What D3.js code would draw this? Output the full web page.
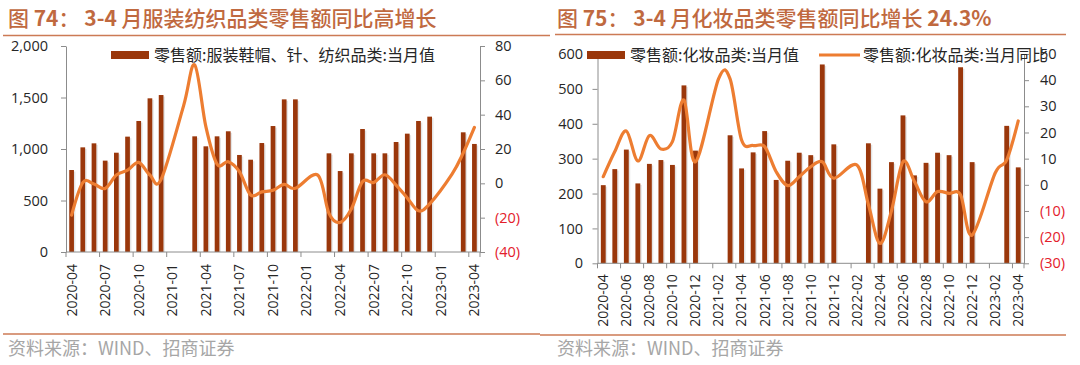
<!DOCTYPE html>
<html><head><meta charset="utf-8">
<script src="https://cdn.jsdelivr.net/npm/d3@7"></script>
<style>
body{margin:0;background:#fff;}
svg{display:block;}
</style>
</head><body>
<svg id="c" width="1080" height="365"></svg>
<script>
// ---------- DATA ----------
const months = ["2020-04","2020-05","2020-06","2020-07","2020-08","2020-09","2020-10","2020-11","2020-12",
  "2021-01","2021-02","2021-03","2021-04","2021-05","2021-06","2021-07","2021-08","2021-09","2021-10","2021-11","2021-12",
  "2022-01","2022-02","2022-03","2022-04","2022-05","2022-06","2022-07","2022-08","2022-09","2022-10","2022-11","2022-12",
  "2023-01","2023-02","2023-03","2023-04"];

// 零售额:服装鞋帽、针、纺织品类:当月值 (亿元)
const apparelSales = [796,1016,1055,887,964,1120,1272,1492,1524,
  null,null,1123,1026,1123,1172,942,896,1058,1223,1482,1482,
  null,null,958,786,958,1194,958,958,1068,1149,1272,1314,
  null,null,1162,1049];
// 零售额:服装鞋帽、针、纺织品类:当月同比 (%)
const apparelYoY = [-18.5,0.4,-0.4,-3,4.8,7.7,12.2,4.8,2.3,
  null,45,69,33,11.2,12.6,6.8,-6.8,-5,-4,-0.6,-2.9,
  null,4.8,-17.5,-22.8,-15,1,0.5,5,-1,-8.5,-16,-12,
  null,5.4,17.7,32.6];

// 零售额:化妆品类:当月值 (亿元)
const cosmeticsSales = [224,270,326,229,285,296,282,510,323,
  null,null,367,272,318,379,239,294,317,310,570,341,
  null,null,344,214,290,424,252,288,317,310,562,290,
  null,null,394,275];
// 零售额:化妆品类:当月同比 (%)
const cosmeticsYoY = [3.1,12.7,20.6,9.1,18.8,13.7,16.5,32.4,8.8,
  null,40.5,40.5,17.1,15,14.6,5,-0.3,3.1,6.9,8.8,2.5,
  null,7.6,-7.5,-22.4,-10,8.8,1.2,-6.5,-2.6,-3.3,-3.9,-19.2,
  null,4.5,9.5,24.4];

const leftTicks1 = [0,500,1000,1500,2000];
const rightTicks1 = [-40,-20,0,20,40,60,80];
const leftTicks2 = [0,100,200,300,400,500,600];
const rightTicks2 = [-30,-20,-10,0,10,20,30,40,50];

// ---------- STYLE ----------
const BAR = "#9A370B", LINE = "#ED7D31", AX = "#8c8c8c", TXT = "#262626", NEG = "#E3202B";
const TITLE = "#C0693F", RULE = "#CC7A55", SRC = "#a6a6a6";
const NUMFONT = "'Open Sans','Noto Sans CJK SC',sans-serif";
const CJK = "'Noto Sans CJK SC','Noto Sans',sans-serif";

const svg = d3.select("#c");

function drawChart(o) {
  const g = svg.append("g");
  const x = d3.scaleBand().domain(months).range([o.x0, o.x1]);
  const yL = d3.scaleLinear().domain(o.leftDomain).range([o.yBot, o.yTop]);
  const yR = d3.scaleLinear().domain(o.rightDomain).range([o.yBot, o.yTop]);
  const bw = x.bandwidth() * 0.42;
  const cx = c => x(c) + x.bandwidth() / 2;

  const barData = months.map((c, i) => ({c, v: o.bars[i]})).filter(d => d.v != null);
  g.selectAll("rect.sh").data(barData).join("rect").attr("class","sh")
    .attr("x", d => cx(d.c) - bw/2 + 1.5).attr("y", d => yL(d.v) + 1.5)
    .attr("width", bw).attr("height", d => Math.max(0, yL(0) - yL(d.v) - 1.5))
    .attr("fill", "#000").attr("opacity", 0.1);
  g.selectAll("rect.bar").data(barData).join("rect").attr("class","bar")
    .attr("x", d => cx(d.c) - bw/2).attr("y", d => yL(d.v))
    .attr("width", bw).attr("height", d => yL(0) - yL(d.v))
    .attr("fill", BAR);

  // x axis
  const xa = g.append("g");
  xa.append("line").attr("x1", o.x0).attr("x2", o.x1).attr("y1", o.yBot).attr("y2", o.yBot)
    .attr("stroke", AX).attr("stroke-width", 1);
  const tickCats = months.filter((m, i) => i % o.every === 0);
  xa.selectAll("line.t").data(tickCats.map(m => x(m)).concat([o.x1])).join("line").attr("class","t")
    .attr("x1", d => d).attr("x2", d => d).attr("y1", o.yBot).attr("y2", o.yBot + 5)
    .attr("stroke", AX);
  xa.selectAll("text").data(tickCats).join("text")
    .attr("transform", d => `translate(${cx(d)},${o.yBot + o.labGap}) rotate(-90)`)
    .attr("text-anchor", "end").attr("dy", "0.35em")
    .style("font-family", NUMFONT).style("font-size", "14px").attr("fill", TXT)
    .text(d => d);

  // left axis
  const la = g.append("g").attr("transform", `translate(${o.x0},0)`)
    .call(d3.axisLeft(yL).tickValues(o.leftTicks).tickSize(5).tickSizeOuter(0)
      .tickPadding(o.lPad).tickFormat(d3.format(",")));
  la.select(".domain").attr("stroke", AX);
  la.selectAll(".tick line").attr("stroke", AX);
  la.selectAll(".tick text").style("font-family", NUMFONT).style("font-size", "14.5px").attr("fill", TXT);

  // right axis
  const ra = g.append("g").attr("transform", `translate(${o.x1},0)`)
    .call(d3.axisRight(yR).tickValues(o.rightTicks).tickSize(5).tickSizeOuter(0)
      .tickPadding(o.rPad).tickFormat(d => d < 0 ? `(${-d})` : `${d}`));
  ra.select(".domain").attr("stroke", AX);
  ra.selectAll(".tick line").attr("stroke", AX);
  ra.selectAll(".tick text").style("font-family", NUMFONT).style("font-size", "14.5px")
    .attr("fill", d => d < 0 ? NEG : TXT);

  // line
  const lineData = months.map((c, i) => ({c, v: o.line[i]})).filter(d => d.v != null);
  g.append("path").datum(lineData)
    .attr("d", d3.line().x(d => cx(d.c)).y(d => yR(d.v)).curve(d3.curveCardinal.tension(0)))
    .attr("fill", "none").attr("stroke", LINE).attr("stroke-width", 3.2)
    .attr("stroke-linejoin", "round").attr("stroke-linecap", "round");

  // legend
  const lg = g.append("g");
  lg.append("rect").attr("x", o.legX).attr("y", 51).attr("width", 38).attr("height", 8).attr("fill", BAR);
  lg.append("text").attr("x", o.legX + 43).attr("y", 61)
    .style("font-family", CJK).style("font-size", "16px").attr("fill", TXT).text(o.barName);
  if (o.lineName) {
    lg.append("line").attr("x1", o.legX2).attr("x2", o.legX2 + 41).attr("y1", 55).attr("y2", 55)
      .attr("stroke", LINE).attr("stroke-width", 3.2);
    lg.append("text").attr("x", o.legX2 + 44).attr("y", 61)
      .style("font-family", CJK).style("font-size", "16px").attr("fill", TXT).text(o.lineName);
  }
}

function title(xp, parts) {
  const t = svg.append("text").attr("x", xp).attr("y", 26)
    .style("font-family", CJK).style("font-size", "21px").attr("fill", TITLE);
  parts.forEach(p => t.append("tspan").style("font-weight", p[1] ? 700 : 500).text(p[0]));
}

// frames
svg.append("line").attr("x1", 3).attr("x2", 550).attr("y1", 35.5).attr("y2", 35.5).attr("stroke", RULE).attr("stroke-width", 1.3);
svg.append("line").attr("x1", 555).attr("x2", 1066).attr("y1", 34.5).attr("y2", 34.5).attr("stroke", RULE).attr("stroke-width", 1.3);
svg.append("line").attr("x1", 3).attr("x2", 540).attr("y1", 334).attr("y2", 334).attr("stroke", RULE).attr("stroke-width", 1.3);
svg.append("line").attr("x1", 540).attr("x2", 1066).attr("y1", 335).attr("y2", 335).attr("stroke", RULE).attr("stroke-width", 1.3);

title(8, [["图 ", false], ["74", true], ["： ", false], ["3-4 ", true], ["月服装纺织品类零售额同比高增长", false]]);
title(557, [["图 ", false], ["75", true], ["： ", false], ["3-4 ", true], ["月化妆品类零售额同比增长 ", false], ["24.3%", true]]);

drawChart({x0: 66, x1: 480, yTop: 46, yBot: 252, leftDomain: [0, 2000], rightDomain: [-40, 80],
  leftTicks: leftTicks1, rightTicks: rightTicks1, every: 3, labGap: 12, lPad: 13, rPad: 10,
  bars: apparelSales, line: apparelYoY, legX: 111, barName: "零售额:服装鞋帽、针、纺织品类:当月值"});

drawChart({x0: 597.5, x1: 1024, yTop: 54, yBot: 263.3, leftDomain: [0, 600], rightDomain: [-30, 50],
  leftTicks: leftTicks2, rightTicks: rightTicks2, every: 2, labGap: 11, lPad: 9.5, rPad: 11,
  bars: cosmeticsSales, line: cosmeticsYoY, legX: 587, barName: "零售额:化妆品类:当月值",
  legX2: 819, lineName: "零售额:化妆品类:当月同比"});

svg.append("text").attr("x", 8).attr("y", 355).style("font-family", CJK).style("font-size", "18px")
  .attr("fill", SRC).text("资料来源：WIND、招商证券");
svg.append("text").attr("x", 557).attr("y", 355).style("font-family", CJK).style("font-size", "18px")
  .attr("fill", SRC).text("资料来源：WIND、招商证券");
</script>
</body></html>
